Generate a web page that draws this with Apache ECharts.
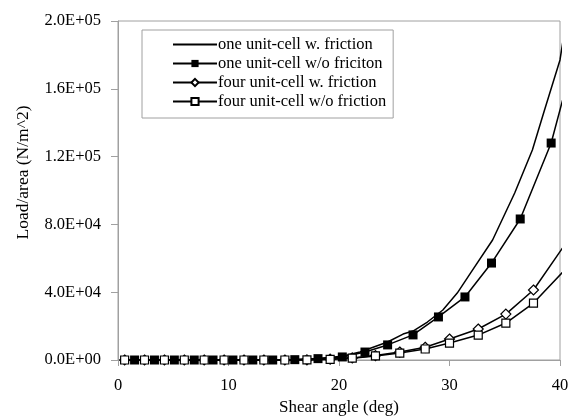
<!DOCTYPE html>
<html>
<head>
<meta charset="utf-8">
<script src="https://cdn.jsdelivr.net/npm/echarts@6/dist/echarts.min.js"></script>
<style>
  html, body { margin: 0; padding: 0; background: #fff; }
  #chart { width: 572px; height: 416px; }
</style>
</head>
<body>
<div id="chart"></div>
<script>
// one unit-cell w. friction (no markers)
const oneFricX = [1.5, 3.3, 5.1, 6.9, 8.6, 10.4, 12.2, 14.0, 16.0, 18.1, 20.3, 21.9, 24.4, 25.8, 26.7, 28.0, 29.4, 30.7, 31.9, 33.9, 35.9, 37.5, 38.6, 40.0, 40.6];
const oneFricY = [0, 0, 0, 0, 0, 0, 0, 0, 300, 900, 2200, 4700, 10600, 15300, 17100, 22400, 29500, 39500, 51300, 70800, 98500, 123900, 147500, 177000, 202000];

// one unit-cell w/o friction (filled squares)
const oneNoFricX = [1.5, 3.3, 5.1, 6.9, 8.6, 10.4, 12.2, 14.0, 16.0, 18.1, 20.3, 22.35, 24.4, 26.7, 29.0, 31.4, 33.8, 36.4, 39.2, 40.6];
const oneNoFricY = [0, 0, 0, 0, 0, 0, 0, 0, 200, 800, 1800, 4700, 8900, 14800, 25400, 37200, 57200, 83200, 128000, 162200];

// four unit-cell series share the same shear angles
const fourX = [0.6, 2.4, 4.2, 6.0, 7.8, 9.6, 11.4, 13.2, 15.1, 17.1, 19.2, 21.2, 23.3, 25.5, 27.8, 30.0, 32.6, 35.1, 37.6, 40.6];
const fourFricY = [0, 0, 0, 0, 0, 0, 0, 0, 0, 100, 500, 1200, 2600, 4700, 7500, 12400, 18300, 27100, 41300, 69600];
const fourNoFricY = [0, 0, 0, 0, 0, 0, 0, 0, 0, 100, 400, 1100, 2400, 4100, 6500, 10000, 14700, 21800, 33600, 54300];

const seriesNames = ['one unit-cell w. friction', 'one unit-cell w/o friciton', 'four unit-cell w. friction', 'four unit-cell w/o friction'];

const font = 'Liberation Serif';
const grey = '#a0a0a0';

// last point sits past the axis end, draw the line but no marker there
function pairs(xs, ys) {
    return xs.map((x, i) => {
        if (i === xs.length - 1) return { value: [x, ys[i]], symbol: 'none' };
        return [x, ys[i]];
    });
}

function sci(v) {
    if (v === 0) return '0.0E+00';
    let e = Math.floor(Math.log10(v));
    let m = v / Math.pow(10, e);
    return m.toFixed(1) + 'E+' + (e < 10 ? '0' + e : e);
}

let chartElement = document.getElementById('chart');
let chart = echarts.init(chartElement);

let option = {
    animation: false,
    backgroundColor: '#fff',
    textStyle: { fontFamily: font, color: '#000' },
    grid: {
        left: 118, right: 12, top: 21, bottom: 56,
        outerBoundsMode: 'none',
        containLabel: false,
        show: true, borderColor: grey, borderWidth: 1
    },
    legend: {
        orient: 'vertical',
        left: 142,
        top: 30,
        backgroundColor: '#fff',
        borderColor: grey,
        borderWidth: 1,
        padding: [6, 7, 8, 30],
        itemWidth: 44,
        itemHeight: 9,
        itemGap: 2,
        textStyle: { fontFamily: font, fontSize: 16.5, color: '#000', padding: [0, 0, 0, -4] },
        data: [
            { name: seriesNames[0], itemStyle: { opacity: 0 } },
            seriesNames[1], seriesNames[2], seriesNames[3]
        ]
    },
    xAxis: {
        type: 'value',
        min: 0, max: 40, interval: 10,
        name: 'Shear angle (deg)',
        nameLocation: 'middle',
        nameGap: 37,
        nameTextStyle: { fontFamily: font, fontSize: 17, color: '#000' },
        axisLine: { lineStyle: { color: grey } },
        axisTick: { length: 6, lineStyle: { color: grey } },
        axisLabel: { fontFamily: font, fontSize: 16.5, color: '#000', margin: 17 },
        splitLine: { show: false }
    },
    yAxis: {
        type: 'value',
        min: 0, max: 200000, interval: 40000,
        name: 'Load/area (N/m^2)',
        nameLocation: 'middle',
        nameGap: 86,
        nameTextStyle: { fontFamily: font, fontSize: 17.5, color: '#000', padding: [0, 0, 0, 36] },
        axisLine: { show: true, lineStyle: { color: grey } },
        axisTick: { show: true, length: 7, lineStyle: { color: grey } },
        axisLabel: { fontFamily: font, fontSize: 16.5, color: '#000', margin: 17, formatter: sci },
        splitLine: { show: false }
    },
    series: [
        {
            name: seriesNames[0],
            type: 'line',
            clip: false,
            symbol: 'none',
            lineStyle: { color: '#000', width: 1.5 },
            itemStyle: { color: '#000' },
            data: pairs(oneFricX, oneFricY)
        },
        {
            name: seriesNames[1],
            type: 'line',
            clip: false,
            symbol: 'rect',
            symbolSize: 9,
            lineStyle: { color: '#000', width: 1.5 },
            itemStyle: { color: '#000' },
            data: pairs(oneNoFricX, oneNoFricY)
        },
        {
            name: seriesNames[2],
            type: 'line',
            clip: false,
            symbol: 'diamond',
            symbolSize: 10,
            lineStyle: { color: '#000', width: 1.5 },
            itemStyle: { color: '#fff', borderColor: '#000', borderWidth: 1.2 },
            data: pairs(fourX, fourFricY)
        },
        {
            name: seriesNames[3],
            type: 'line',
            clip: false,
            symbol: 'rect',
            symbolSize: 8,
            lineStyle: { color: '#000', width: 1.5 },
            itemStyle: { color: '#fff', borderColor: '#000', borderWidth: 1.2 },
            data: pairs(fourX, fourNoFricY)
        }
    ]
};

chart.setOption(option);
</script>
</body>
</html>
